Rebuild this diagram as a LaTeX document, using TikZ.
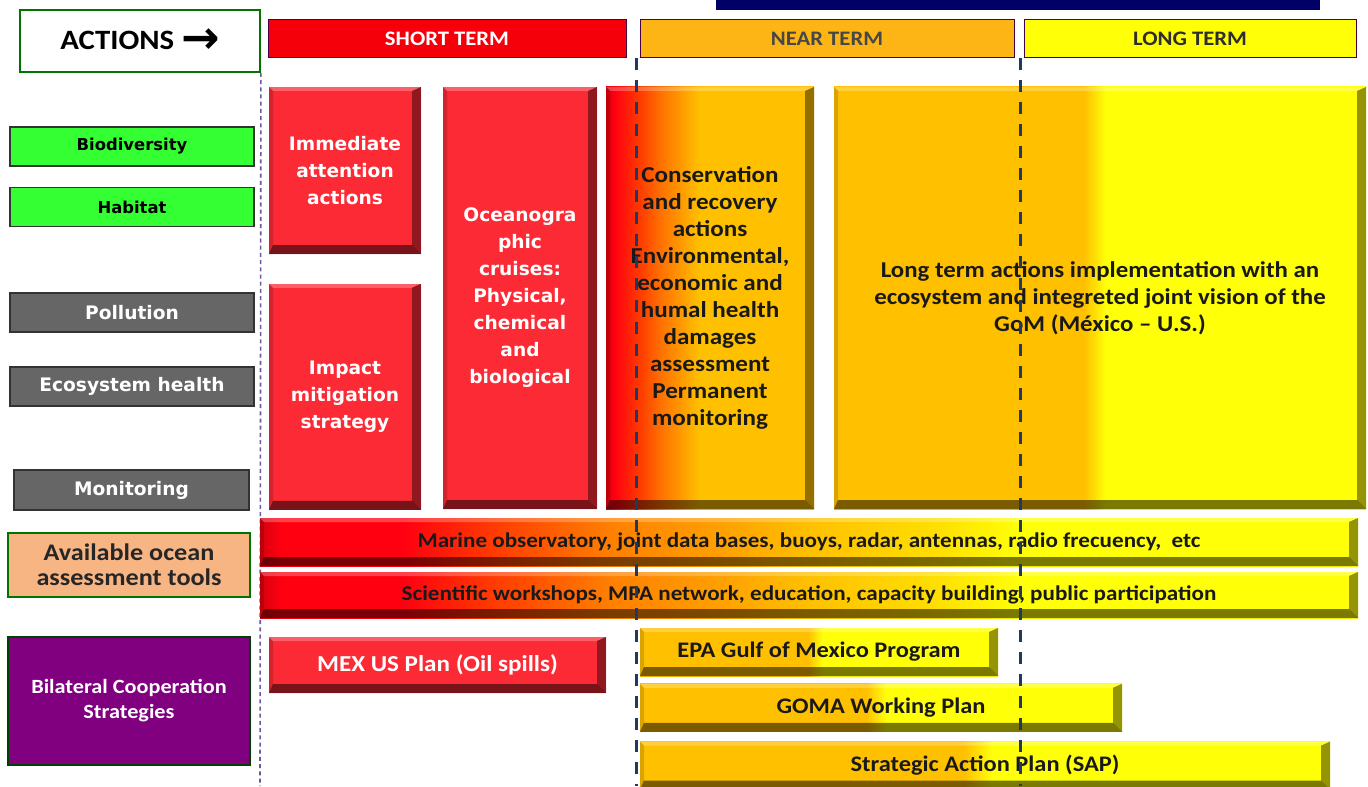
\documentclass[tikz,border=0pt]{standalone}
\usepackage{fontspec}
\setmainfont{Carlito}[FakeStretch=1.1]
\newfontfamily\verdfont{DejaVu Sans}
\usepackage{tikz}
\usetikzlibrary{
  positioning,
  calc
}

\definecolor{shortred}{HTML}{F5000A}
\definecolor{boxred}{HTML}{FB2A35}
\definecolor{nearorange}{HTML}{FDB515}
\definecolor{gold}{HTML}{FFC000}
\definecolor{longyellow}{HTML}{FFFF08}
\definecolor{labelgreen}{HTML}{33FF33}
\definecolor{labelgray}{HTML}{666666}
\definecolor{peach}{HTML}{F8B584}
\definecolor{plum}{HTML}{800080}
\definecolor{navy}{HTML}{000066}
\definecolor{dashnavy}{HTML}{1F3864}
\definecolor{dotpurple}{HTML}{6A5AA0}
\definecolor{deepred}{HTML}{D8000E}
\definecolor{hotred}{HTML}{FF0010}
\definecolor{redorange}{HTML}{FF3A00}
\definecolor{midorange}{HTML}{FF7000}
\definecolor{toolred}{HTML}{FF4000}
\definecolor{toolorange}{HTML}{FF8000}
\definecolor{toolamber}{HTML}{FFA000}
\definecolor{toollemon}{HTML}{FFE000}

\pgfdeclarehorizontalshading{fadered}{100bp}{color(0bp)=(deepred); color(25bp)=(deepred); color(27bp)=(hotred); color(33bp)=(redorange); color(38bp)=(midorange); color(47.5bp)=(gold); color(100bp)=(gold)}
\pgfdeclarehorizontalshading{goldyellow}{100bp}{color(0bp)=(gold); color(48.5bp)=(gold); color(50.5bp)=(longyellow); color(100bp)=(longyellow)}
\pgfdeclarehorizontalshading{toolramp}{100bp}{color(0bp)=(deepred); color(25bp)=(deepred); color(26bp)=(hotred); color(31.5bp)=(hotred); color(36bp)=(toolred); color(41bp)=(toolorange); color(46bp)=(toolamber); color(50bp)=(gold); color(56bp)=(toollemon); color(59.5bp)=(longyellow); color(100bp)=(longyellow)}

\def\bvlight{2pt}
\def\bvdark{4.5pt}

\tikzset{
  bevel/.style={
    path picture={
      \coordinate (bvNW) at (path picture bounding box.north west);
      \coordinate (bvNE) at (path picture bounding box.north east);
      \coordinate (bvSW) at (path picture bounding box.south west);
      \coordinate (bvSE) at (path picture bounding box.south east);
      \fill[white,opacity=.25] (bvNW) -- (bvNE) -- ([shift={(-\bvdark,-\bvlight)}]bvNE) -- ([shift={(\bvlight,-\bvlight)}]bvNW) -- cycle;
      \fill[black,opacity=.15] (bvNW) -- ([shift={(\bvlight,-\bvlight)}]bvNW) -- ([shift={(\bvlight,\bvdark)}]bvSW) -- (bvSW) -- cycle;
      \fill[black,opacity=.42] (bvNE) -- ([shift={(-\bvdark,-\bvlight)}]bvNE) -- ([shift={(-\bvdark,\bvdark)}]bvSE) -- (bvSE) -- cycle;
      \fill[black,opacity=.52] (bvSW) -- ([shift={(\bvlight,\bvdark)}]bvSW) -- ([shift={(-\bvdark,\bvdark)}]bvSE) -- (bvSE) -- cycle;
    }
  }
}

\begin{document}
\begin{tikzpicture}[
  x=0.5pt,
  y=-0.5pt,
  headbar/.style={
    rectangle,
    draw=plum!55!black,
    line width=.5pt,
    minimum height=19pt,
    inner sep=0pt,
    font=\bfseries\fontsize{10.3}{12}\selectfont
  },
  sidelabel/.style={
    rectangle,
    draw=black!80,
    line width=.7pt,
    minimum width=122pt,
    minimum height=19.5pt,
    inner sep=0pt,
    align=center
  },
  greenlabel/.style={
    sidelabel,
    fill=labelgreen,
    text=black,
    font=\verdfont\bfseries\fontsize{8.2}{10}\selectfont
  },
  graylabel/.style={
    sidelabel,
    fill=labelgray,
    text=white,
    font=\verdfont\bfseries\fontsize{9.3}{11}\selectfont
  },
  redblock/.style={
    rectangle,
    fill=boxred,
    bevel,
    inner sep=0pt,
    align=center,
    text=white,
    font=\verdfont\bfseries\fontsize{9.3}{13.5}\selectfont
  },
  shadeblock/.style={
    rectangle,
    shade,
    bevel,
    inner sep=0pt,
    align=center,
    text=black!90,
    font=\bfseries\fontsize{11.3}{13.6}\selectfont
  },
  toolbar/.style={
    shadeblock,
    shading=toolramp,
    minimum width=549pt,
    minimum height=24pt,
    font=\bfseries\fontsize{10.5}{12}\selectfont
  },
  planbar/.style={
    shadeblock,
    shading=goldyellow,
    minimum height=24pt,
    font=\bfseries\fontsize{11.1}{13}\selectfont
  },
  dotdiv/.style={
    draw=dotpurple,
    line width=.8pt,
    dash pattern=on 2pt off 1.6pt
  },
  termdiv/.style={
    draw=dashnavy,
    line width=1.5pt,
    dash pattern=on 6pt off 5pt
  }
]

\useasboundingbox (0,0) rectangle (1368,786);

% Header
\node[rectangle, fill=navy, minimum width=302pt, minimum height=5pt, inner sep=0pt] (topband) at (1018,5) {};
\node[rectangle, draw=green!45!black, line width=.9pt, fill=white, minimum width=120pt, minimum height=31pt, inner sep=0pt,
      font=\bfseries\fontsize{14}{16}\selectfont] (actions) at (140,41) {ACTIONS \raisebox{-2.2pt}{\verdfont\bfseries\fontsize{23}{23}\selectfont →}};
\node[headbar, fill=shortred, minimum width=179pt, text=white] (short) at (447,39) {SHORT TERM};
\node[headbar, fill=nearorange, minimum width=187pt, text=black!72] (near) at (827,39) {NEAR TERM};
\node[headbar, fill=longyellow, minimum width=166pt, text=black!82] (long) at (1190,39) {LONG TERM};

% Divider behind the bars
\coordinate (dotfoot) at (260,786);
\draw[dotdiv] (actions.south east) -- (dotfoot);

% Themes
\node[greenlabel] (biodiv) at (132,146.5) {Biodiversity};
\node[greenlabel, below=10pt of biodiv] (habitat) {Habitat};
\node[graylabel] (pollution) at (132,312.5) {Pollution};
\node[graylabel] (ecohealth) at (132,386.5) {Ecosystem health};
\node[graylabel, minimum width=117.5pt, minimum height=20pt] (monitor) at (131.5,490) {Monitoring};
\node[sidelabel, draw=green!45!black, fill=peach, minimum width=121pt, minimum height=32pt, text=black!85,
      font=\bfseries\fontsize{11.9}{12.5}\selectfont] (tools) at (129,565) {Available ocean\\assessment tools};
\node[sidelabel, draw=green!25!black, fill=plum, minimum width=121pt, minimum height=64pt, text=white,
      font=\bfseries\fontsize{10.1}{12.5}\selectfont] (bilateral) at (129,701) {Bilateral Cooperation\\Strategies};

% Actions by term
\node[redblock, minimum width=76pt, minimum height=83.5pt] (immediate) at (345,170.5) {Immediate\\attention\\actions};
\node[redblock, minimum width=76pt, minimum height=113pt, below=14.5pt of immediate] (impact) {Impact\\mitigation\\strategy};
\node[redblock, minimum width=77pt, minimum height=211pt] (cruises) at (520,298) {Oceanogra\\phic\\cruises:\\Physical,\\chemical\\and\\biological};
\node[shadeblock, shading=fadered, minimum width=104pt, minimum height=211pt,
      font=\bfseries\fontsize{11.4}{13.5}\selectfont] (conserv) at (710,298) {Conservation\\and recovery\\actions\\Environmental,\\economic and\\humal health\\damages\\assessment\\Permanent\\monitoring};
\node[shadeblock, shading=goldyellow, minimum width=266pt, minimum height=211pt] (vision) at (1100,298) {Long term actions implementation with an\\ecosystem and integreted joint vision of the\\GoM (México – U.S.)};

% Assessment tools
\node[toolbar] (observ) at (809,542) {Marine observatory, joint data bases, buoys, radar, antennas, radio frecuency,\ \ etc};
\node[toolbar, minimum height=23pt] (workshops) at (809,595) {Scientific workshops, MPA network, education, capacity building, public participation};

% Cooperation plans
\node[redblock, minimum width=168.5pt, minimum height=28pt, font=\bfseries\fontsize{11.4}{13}\selectfont] (mexus) at (437.5,665) {MEX US Plan (Oil spills)};
\node[planbar, minimum width=179pt] (epa) at (819,652) {EPA Gulf of Mexico Program};
\node[planbar, minimum width=241pt, below=3.5pt of epa.south west, anchor=north west] (goma) {GOMA Working Plan};
\node[planbar, minimum width=345pt, below=4.5pt of goma.south west, anchor=north west] (sap) {Strategic Action Plan (SAP)};

% Term dividers
\coordinate (neartop) at (636,58);
\coordinate (nearfoot) at (636,786);
\coordinate (longtop) at (1020,58);
\coordinate (longfoot) at (1020,786);
\draw[termdiv] (neartop) -- (nearfoot);
\draw[termdiv] (longtop) -- (longfoot);

\end{tikzpicture}
\end{document}
